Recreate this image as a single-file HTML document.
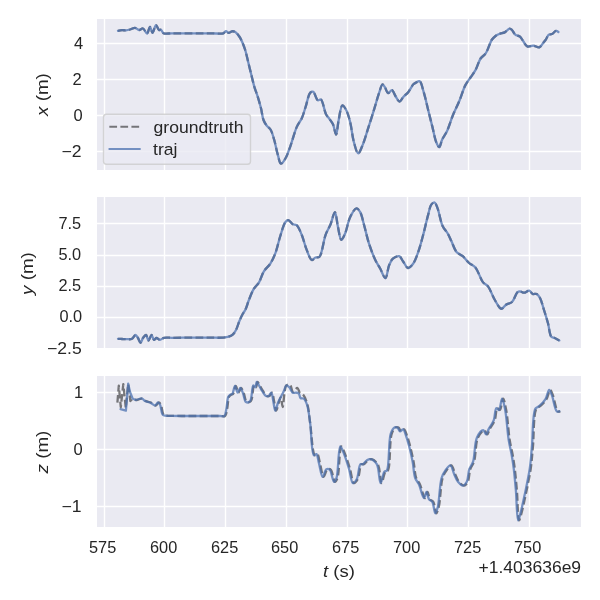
<!DOCTYPE html><html><head><meta charset="utf-8"><title>xyz</title><style>html,body{margin:0;padding:0;background:#fff;width:600px;height:600px;overflow:hidden}svg{display:block}</style></head><body>
<svg width="600" height="600" viewBox="0 0 600 600" style="font-family:'Liberation Sans',sans-serif">
<defs>
<clipPath id="c0"><rect x="97" y="19" width="484" height="151"/></clipPath>
<clipPath id="c1"><rect x="97" y="197" width="484" height="151"/></clipPath>
<clipPath id="c2"><rect x="97" y="376" width="484" height="151"/></clipPath>
</defs>
<rect width="600" height="600" fill="#fff"/>
<rect x="97" y="19" width="484" height="151" fill="#EAEAF2"/>
<path d="M104.5 19 V170 M164.5 19 V170 M225.5 19 V170 M286.5 19 V170 M347.5 19 V170 M407.5 19 V170 M468.5 19 V170 M529.5 19 V170 M97 43.5 H581 M97 79.5 H581 M97 115.5 H581 M97 151.5 H581" stroke="#fff" stroke-width="1.389" fill="none"/>
<g clip-path="url(#c0)" fill="none" stroke-linejoin="round">
<path d="M118.00 30.80 C118.00 30.80 120.66 30.28 122.00 30.20 C123.33 30.12 124.67 30.41 126.00 30.30 C127.34 30.18 128.61 29.87 130.00 29.50 C131.59 29.07 133.45 27.66 135.00 27.80 C136.44 27.93 137.64 29.90 139.00 30.00 C140.31 30.09 141.78 28.16 143.00 28.50 C144.50 28.91 145.86 33.65 147.00 33.50 C148.22 33.34 149.06 26.79 150.00 26.80 C150.89 26.81 151.58 32.78 152.50 32.80 C153.55 32.82 154.81 25.28 156.00 25.20 C156.98 25.14 157.93 29.47 159.00 30.00 C159.64 30.31 160.37 29.52 161.00 29.80 C161.91 30.21 162.19 32.53 163.50 33.20 C165.36 34.16 168.87 33.28 172.00 33.30 C175.87 33.32 180.51 33.30 185.00 33.30 C189.82 33.30 195.28 33.30 200.00 33.30 C204.22 33.30 208.06 33.30 212.00 33.30 C215.82 33.30 220.91 34.15 223.30 33.30 C224.63 32.83 225.08 31.14 226.00 31.10 C226.88 31.06 227.73 32.83 228.70 32.90 C229.73 32.97 230.88 31.44 232.00 31.30 C233.08 31.17 234.24 31.39 235.30 32.00 C236.71 32.82 238.17 34.89 239.30 36.50 C240.39 38.06 241.12 39.58 242.00 41.50 C243.11 43.93 244.21 46.82 245.20 50.00 C246.42 53.91 247.40 58.86 248.50 63.30 C249.60 67.76 250.77 72.56 251.80 76.70 C252.69 80.28 253.32 83.39 254.30 86.70 C255.29 90.05 256.62 93.23 257.70 96.70 C258.86 100.41 260.03 104.41 261.00 108.30 C261.96 112.18 262.30 116.85 263.50 120.00 C264.40 122.35 265.54 124.15 266.80 125.80 C267.91 127.26 269.43 127.81 270.50 129.50 C272.03 131.91 272.98 135.79 274.10 139.50 C275.46 144.01 276.51 150.33 277.80 154.70 C278.80 158.09 279.47 163.32 280.90 163.60 C282.11 163.84 284.02 160.73 285.40 158.50 C287.35 155.34 288.78 150.48 290.50 145.80 C292.57 140.15 294.54 131.94 296.80 126.90 C298.42 123.28 300.45 121.23 301.90 118.00 C303.46 114.51 304.38 110.59 305.70 106.60 C307.16 102.20 308.33 94.56 310.30 92.70 C311.21 91.84 312.35 91.49 313.30 91.90 C314.96 92.62 316.12 99.56 317.80 100.30 C318.77 100.73 319.95 98.99 320.90 99.50 C323.00 100.62 324.15 110.66 326.00 114.20 C327.17 116.45 328.52 117.60 329.70 119.30 C330.85 120.96 332.04 122.26 333.00 124.30 C334.28 127.03 335.21 134.55 336.10 134.50 C337.13 134.44 337.58 125.24 338.60 120.50 C339.67 115.52 340.66 105.69 342.40 105.30 C343.48 105.06 345.08 107.95 346.20 110.00 C347.80 112.94 348.94 117.29 350.10 121.80 C351.60 127.61 352.29 136.38 353.90 142.10 C355.13 146.48 356.63 153.31 358.20 153.40 C359.62 153.48 361.36 148.00 362.80 144.60 C364.62 140.28 366.05 134.84 367.80 129.40 C369.82 123.13 372.21 115.51 374.20 109.10 C375.98 103.35 377.62 97.24 379.20 92.70 C380.35 89.41 381.30 84.48 382.50 84.30 C383.32 84.18 384.26 86.31 385.10 87.60 C386.14 89.18 386.86 92.94 388.10 93.20 C389.18 93.43 390.74 89.99 391.90 90.20 C393.33 90.46 394.38 94.55 395.70 96.50 C396.92 98.30 398.21 101.47 399.50 101.50 C400.75 101.53 401.91 98.52 403.30 97.00 C404.84 95.32 406.80 93.86 408.40 91.90 C410.19 89.70 411.87 85.85 413.40 84.30 C414.28 83.41 414.94 83.08 415.90 82.60 C417.00 82.05 418.62 80.79 419.70 81.30 C421.47 82.13 422.25 87.41 423.50 91.40 C425.24 96.96 427.03 105.42 428.60 111.70 C429.96 117.13 431.13 121.83 432.40 126.90 C433.67 131.97 434.70 138.48 436.20 142.10 C437.11 144.31 438.27 147.18 439.20 147.10 C440.30 147.01 440.96 142.08 442.20 139.50 C443.58 136.63 445.62 134.11 447.20 130.70 C449.20 126.39 450.79 120.43 452.80 115.50 C454.76 110.70 457.07 106.38 459.10 101.50 C461.28 96.28 463.15 89.43 465.40 85.10 C467.02 81.97 468.80 80.03 470.50 77.50 C472.20 74.97 474.03 72.77 475.60 69.90 C477.44 66.56 478.61 61.41 480.60 58.50 C482.11 56.28 484.10 55.71 485.70 53.40 C488.02 50.05 489.88 42.57 492.00 39.50 C493.26 37.68 494.41 36.68 495.80 35.70 C497.09 34.79 498.54 34.25 500.00 33.70 C501.50 33.14 503.19 33.15 504.70 32.40 C506.40 31.56 508.23 28.80 509.60 28.70 C510.52 28.63 511.22 29.30 512.00 30.00 C513.14 31.01 513.91 33.58 515.30 34.70 C516.61 35.76 518.69 35.65 520.00 36.70 C521.38 37.81 522.13 39.74 523.30 41.30 C524.55 42.97 525.59 45.69 527.30 46.40 C528.95 47.09 531.31 45.56 533.30 45.70 C535.31 45.85 537.63 47.81 539.30 47.30 C540.96 46.79 542.11 44.13 543.30 42.70 C544.30 41.49 545.14 40.55 546.00 39.30 C546.95 37.91 547.53 35.54 548.70 34.70 C549.63 34.03 550.91 34.51 552.00 34.00 C553.34 33.38 554.80 31.04 556.00 30.90 C556.87 30.80 558.40 32.00 558.40 32.00" stroke="#000" stroke-opacity="0.5" stroke-width="2.3" stroke-dasharray="7.71 3.33"/>
<path d="M118.00 30.80 C118.00 30.80 120.66 30.28 122.00 30.20 C123.33 30.12 124.67 30.41 126.00 30.30 C127.34 30.18 128.61 29.87 130.00 29.50 C131.59 29.07 133.45 27.66 135.00 27.80 C136.44 27.93 137.64 29.90 139.00 30.00 C140.31 30.09 141.78 28.16 143.00 28.50 C144.50 28.91 145.86 33.65 147.00 33.50 C148.22 33.34 149.06 26.79 150.00 26.80 C150.89 26.81 151.58 32.78 152.50 32.80 C153.55 32.82 154.81 25.28 156.00 25.20 C156.98 25.14 157.93 29.47 159.00 30.00 C159.64 30.31 160.37 29.52 161.00 29.80 C161.91 30.21 162.19 32.53 163.50 33.20 C165.36 34.16 168.87 33.28 172.00 33.30 C175.87 33.32 180.51 33.30 185.00 33.30 C189.82 33.30 195.28 33.30 200.00 33.30 C204.22 33.30 208.06 33.30 212.00 33.30 C215.82 33.30 220.91 34.15 223.30 33.30 C224.63 32.83 225.08 31.14 226.00 31.10 C226.88 31.06 227.73 32.83 228.70 32.90 C229.73 32.97 230.88 31.44 232.00 31.30 C233.08 31.17 234.24 31.39 235.30 32.00 C236.71 32.82 238.17 34.89 239.30 36.50 C240.39 38.06 241.12 39.58 242.00 41.50 C243.11 43.93 244.21 46.82 245.20 50.00 C246.42 53.91 247.40 58.86 248.50 63.30 C249.60 67.76 250.77 72.56 251.80 76.70 C252.69 80.28 253.32 83.39 254.30 86.70 C255.29 90.05 256.62 93.23 257.70 96.70 C258.86 100.41 260.03 104.41 261.00 108.30 C261.96 112.18 262.30 116.85 263.50 120.00 C264.40 122.35 265.54 124.15 266.80 125.80 C267.91 127.26 269.43 127.81 270.50 129.50 C272.03 131.91 272.98 135.79 274.10 139.50 C275.46 144.01 276.51 150.33 277.80 154.70 C278.80 158.09 279.47 163.32 280.90 163.60 C282.11 163.84 284.02 160.73 285.40 158.50 C287.35 155.34 288.78 150.48 290.50 145.80 C292.57 140.15 294.54 131.94 296.80 126.90 C298.42 123.28 300.45 121.23 301.90 118.00 C303.46 114.51 304.38 110.59 305.70 106.60 C307.16 102.20 308.33 94.56 310.30 92.70 C311.21 91.84 312.35 91.49 313.30 91.90 C314.96 92.62 316.12 99.56 317.80 100.30 C318.77 100.73 319.95 98.99 320.90 99.50 C323.00 100.62 324.15 110.66 326.00 114.20 C327.17 116.45 328.52 117.60 329.70 119.30 C330.85 120.96 332.04 122.26 333.00 124.30 C334.28 127.03 335.21 134.55 336.10 134.50 C337.13 134.44 337.58 125.24 338.60 120.50 C339.67 115.52 340.66 105.69 342.40 105.30 C343.48 105.06 345.08 107.95 346.20 110.00 C347.80 112.94 348.94 117.29 350.10 121.80 C351.60 127.61 352.29 136.38 353.90 142.10 C355.13 146.48 356.63 153.31 358.20 153.40 C359.62 153.48 361.36 148.00 362.80 144.60 C364.62 140.28 366.05 134.84 367.80 129.40 C369.82 123.13 372.21 115.51 374.20 109.10 C375.98 103.35 377.62 97.24 379.20 92.70 C380.35 89.41 381.30 84.48 382.50 84.30 C383.32 84.18 384.26 86.31 385.10 87.60 C386.14 89.18 386.86 92.94 388.10 93.20 C389.18 93.43 390.74 89.99 391.90 90.20 C393.33 90.46 394.38 94.55 395.70 96.50 C396.92 98.30 398.21 101.47 399.50 101.50 C400.75 101.53 401.91 98.52 403.30 97.00 C404.84 95.32 406.80 93.86 408.40 91.90 C410.19 89.70 411.87 85.85 413.40 84.30 C414.28 83.41 414.94 83.08 415.90 82.60 C417.00 82.05 418.62 80.79 419.70 81.30 C421.47 82.13 422.25 87.41 423.50 91.40 C425.24 96.96 427.03 105.42 428.60 111.70 C429.96 117.13 431.13 121.83 432.40 126.90 C433.67 131.97 434.70 138.48 436.20 142.10 C437.11 144.31 438.27 147.18 439.20 147.10 C440.30 147.01 440.96 142.08 442.20 139.50 C443.58 136.63 445.62 134.11 447.20 130.70 C449.20 126.39 450.79 120.43 452.80 115.50 C454.76 110.70 457.07 106.38 459.10 101.50 C461.28 96.28 463.15 89.43 465.40 85.10 C467.02 81.97 468.80 80.03 470.50 77.50 C472.20 74.97 474.03 72.77 475.60 69.90 C477.44 66.56 478.61 61.41 480.60 58.50 C482.11 56.28 484.10 55.71 485.70 53.40 C488.02 50.05 489.88 42.57 492.00 39.50 C493.26 37.68 494.41 36.68 495.80 35.70 C497.09 34.79 498.54 34.25 500.00 33.70 C501.50 33.14 503.19 33.15 504.70 32.40 C506.40 31.56 508.23 28.80 509.60 28.70 C510.52 28.63 511.22 29.30 512.00 30.00 C513.14 31.01 513.91 33.58 515.30 34.70 C516.61 35.76 518.69 35.65 520.00 36.70 C521.38 37.81 522.13 39.74 523.30 41.30 C524.55 42.97 525.59 45.69 527.30 46.40 C528.95 47.09 531.31 45.56 533.30 45.70 C535.31 45.85 537.63 47.81 539.30 47.30 C540.96 46.79 542.11 44.13 543.30 42.70 C544.30 41.49 545.14 40.55 546.00 39.30 C546.95 37.91 547.53 35.54 548.70 34.70 C549.63 34.03 550.91 34.51 552.00 34.00 C553.34 33.38 554.80 31.04 556.00 30.90 C556.87 30.80 558.40 32.00 558.40 32.00" stroke="#4C72B0" stroke-opacity="0.75" stroke-width="2.3" stroke-linecap="round"/>
</g>
<rect x="97" y="197" width="484" height="151" fill="#EAEAF2"/>
<path d="M104.5 197 V348 M164.5 197 V348 M225.5 197 V348 M286.5 197 V348 M347.5 197 V348 M407.5 197 V348 M468.5 197 V348 M529.5 197 V348 M97 223.5 H581 M97 255.5 H581 M97 286.5 H581 M97 317.5 H581" stroke="#fff" stroke-width="1.389" fill="none"/>
<g clip-path="url(#c1)" fill="none" stroke-linejoin="round">
<path d="M118.00 338.80 C118.00 338.80 120.59 338.94 122.00 339.00 C123.57 339.07 125.33 339.23 127.00 339.20 C128.67 339.17 130.59 339.49 132.00 338.80 C133.43 338.10 134.44 334.97 135.50 335.00 C136.42 335.02 137.22 336.84 138.00 338.00 C138.91 339.37 139.67 342.80 140.50 342.80 C141.33 342.80 142.01 339.35 143.00 338.00 C143.88 336.80 145.14 334.84 146.00 335.00 C147.03 335.19 147.59 340.47 148.50 340.50 C149.42 340.53 150.55 334.99 151.50 335.00 C152.38 335.01 153.01 339.57 154.00 339.80 C154.75 339.98 155.57 338.07 156.50 338.00 C157.55 337.92 158.79 339.79 160.00 339.80 C161.29 339.81 162.38 338.18 164.00 337.80 C166.16 337.29 169.01 337.81 172.00 337.80 C175.81 337.79 180.51 337.72 185.00 337.70 C189.82 337.68 195.28 337.70 200.00 337.70 C204.22 337.70 208.06 337.72 212.00 337.70 C215.82 337.68 220.23 337.87 223.30 337.60 C225.44 337.41 227.07 337.23 228.70 336.70 C230.17 336.22 231.54 335.70 232.70 334.70 C234.02 333.56 235.00 331.88 236.00 330.00 C237.27 327.61 238.14 324.05 239.30 321.30 C240.38 318.74 241.56 316.11 242.70 314.00 C243.63 312.29 244.62 311.32 245.50 309.50 C246.70 307.03 247.52 303.51 248.80 300.30 C250.24 296.68 251.89 292.04 253.80 288.90 C255.34 286.37 257.36 285.13 258.90 282.60 C260.81 279.48 261.87 274.56 263.90 271.30 C265.71 268.40 268.36 266.61 270.20 263.80 C272.17 260.79 273.68 257.61 275.20 253.70 C277.14 248.70 278.51 241.51 280.30 236.00 C281.90 231.09 283.40 224.62 285.30 222.20 C286.24 221.00 287.22 220.13 288.30 220.20 C289.70 220.29 291.35 223.38 292.90 224.20 C294.13 224.85 295.45 224.28 296.60 225.20 C298.54 226.74 300.15 231.17 301.70 234.80 C303.58 239.20 304.84 245.43 306.70 249.90 C308.27 253.67 309.94 259.52 311.80 260.00 C312.97 260.30 314.20 257.99 315.50 257.50 C316.71 257.04 318.15 257.99 319.30 257.00 C322.12 254.57 323.36 240.77 325.60 234.80 C327.20 230.54 329.08 227.89 330.60 224.20 C332.19 220.34 333.70 212.02 334.90 212.10 C336.21 212.19 336.88 222.41 338.00 227.20 C339.03 231.60 339.87 239.59 341.30 239.80 C342.38 239.96 343.90 236.18 345.10 233.50 C346.92 229.42 347.90 221.68 350.10 217.20 C351.86 213.62 354.47 208.46 356.40 208.30 C357.75 208.19 359.11 210.28 360.20 212.10 C361.90 214.95 362.69 220.06 364.00 224.70 C365.60 230.35 367.05 237.57 369.00 243.60 C370.85 249.31 373.15 255.44 375.30 260.00 C376.94 263.46 378.64 265.82 380.30 268.80 C382.00 271.85 383.97 278.26 385.40 278.10 C387.02 277.92 387.69 268.50 389.20 265.00 C390.30 262.44 391.18 260.17 392.90 258.70 C394.55 257.28 397.50 255.73 399.20 256.20 C400.84 256.66 401.65 259.40 403.00 261.20 C404.56 263.29 406.20 267.78 408.00 268.00 C409.59 268.20 411.60 265.78 413.10 263.80 C415.15 261.09 416.55 256.67 418.10 252.40 C419.98 247.22 421.57 240.89 423.20 234.80 C424.94 228.32 426.66 220.14 428.20 214.60 C429.30 210.67 429.79 206.58 431.30 204.60 C432.22 203.39 433.64 202.24 434.60 202.50 C435.84 202.83 436.60 205.78 437.60 208.30 C439.27 212.54 440.49 221.47 442.60 226.00 C444.08 229.18 446.21 230.94 447.70 233.50 C449.13 235.97 450.08 238.34 451.40 241.10 C452.97 244.38 454.28 249.30 456.50 251.90 C458.27 253.97 460.79 254.47 462.80 256.20 C465.01 258.11 466.90 261.06 469.10 263.00 C471.11 264.77 473.46 265.25 475.40 267.50 C478.23 270.78 480.30 278.83 482.90 282.10 C484.56 284.18 486.40 284.37 488.00 286.40 C490.32 289.35 492.15 295.20 494.30 299.00 C496.17 302.30 498.38 306.71 500.00 308.00 C500.72 308.57 501.28 308.87 502.00 308.70 C503.18 308.43 504.42 305.79 506.00 304.70 C507.71 303.52 510.28 303.59 512.00 302.00 C514.23 299.95 515.55 293.96 517.30 292.40 C518.20 291.60 519.01 291.32 520.00 291.30 C521.20 291.27 522.58 292.72 524.00 292.70 C525.65 292.68 527.81 290.39 529.30 290.70 C530.66 290.98 531.40 293.47 532.70 294.00 C533.89 294.48 535.54 293.45 536.70 294.00 C538.02 294.62 539.00 296.19 540.00 298.00 C541.57 300.83 542.70 305.89 544.00 310.00 C545.37 314.31 546.78 318.84 548.00 323.30 C549.21 327.74 549.47 334.63 551.30 336.70 C552.24 337.76 553.50 337.46 554.70 338.00 C556.14 338.65 559.30 340.40 559.30 340.40" stroke="#000" stroke-opacity="0.5" stroke-width="2.3" stroke-dasharray="7.71 3.33"/>
<path d="M118.00 338.80 C118.00 338.80 120.59 338.94 122.00 339.00 C123.57 339.07 125.33 339.23 127.00 339.20 C128.67 339.17 130.59 339.49 132.00 338.80 C133.43 338.10 134.44 334.97 135.50 335.00 C136.42 335.02 137.22 336.84 138.00 338.00 C138.91 339.37 139.67 342.80 140.50 342.80 C141.33 342.80 142.01 339.35 143.00 338.00 C143.88 336.80 145.14 334.84 146.00 335.00 C147.03 335.19 147.59 340.47 148.50 340.50 C149.42 340.53 150.55 334.99 151.50 335.00 C152.38 335.01 153.01 339.57 154.00 339.80 C154.75 339.98 155.57 338.07 156.50 338.00 C157.55 337.92 158.79 339.79 160.00 339.80 C161.29 339.81 162.38 338.18 164.00 337.80 C166.16 337.29 169.01 337.81 172.00 337.80 C175.81 337.79 180.51 337.72 185.00 337.70 C189.82 337.68 195.28 337.70 200.00 337.70 C204.22 337.70 208.06 337.72 212.00 337.70 C215.82 337.68 220.23 337.87 223.30 337.60 C225.44 337.41 227.07 337.23 228.70 336.70 C230.17 336.22 231.54 335.70 232.70 334.70 C234.02 333.56 235.00 331.88 236.00 330.00 C237.27 327.61 238.14 324.05 239.30 321.30 C240.38 318.74 241.56 316.11 242.70 314.00 C243.63 312.29 244.62 311.32 245.50 309.50 C246.70 307.03 247.52 303.51 248.80 300.30 C250.24 296.68 251.89 292.04 253.80 288.90 C255.34 286.37 257.36 285.13 258.90 282.60 C260.81 279.48 261.87 274.56 263.90 271.30 C265.71 268.40 268.36 266.61 270.20 263.80 C272.17 260.79 273.68 257.61 275.20 253.70 C277.14 248.70 278.51 241.51 280.30 236.00 C281.90 231.09 283.40 224.62 285.30 222.20 C286.24 221.00 287.22 220.13 288.30 220.20 C289.70 220.29 291.35 223.38 292.90 224.20 C294.13 224.85 295.45 224.28 296.60 225.20 C298.54 226.74 300.15 231.17 301.70 234.80 C303.58 239.20 304.84 245.43 306.70 249.90 C308.27 253.67 309.94 259.52 311.80 260.00 C312.97 260.30 314.20 257.99 315.50 257.50 C316.71 257.04 318.15 257.99 319.30 257.00 C322.12 254.57 323.36 240.77 325.60 234.80 C327.20 230.54 329.08 227.89 330.60 224.20 C332.19 220.34 333.70 212.02 334.90 212.10 C336.21 212.19 336.88 222.41 338.00 227.20 C339.03 231.60 339.87 239.59 341.30 239.80 C342.38 239.96 343.90 236.18 345.10 233.50 C346.92 229.42 347.90 221.68 350.10 217.20 C351.86 213.62 354.47 208.46 356.40 208.30 C357.75 208.19 359.11 210.28 360.20 212.10 C361.90 214.95 362.69 220.06 364.00 224.70 C365.60 230.35 367.05 237.57 369.00 243.60 C370.85 249.31 373.15 255.44 375.30 260.00 C376.94 263.46 378.64 265.82 380.30 268.80 C382.00 271.85 383.97 278.26 385.40 278.10 C387.02 277.92 387.69 268.50 389.20 265.00 C390.30 262.44 391.18 260.17 392.90 258.70 C394.55 257.28 397.50 255.73 399.20 256.20 C400.84 256.66 401.65 259.40 403.00 261.20 C404.56 263.29 406.20 267.78 408.00 268.00 C409.59 268.20 411.60 265.78 413.10 263.80 C415.15 261.09 416.55 256.67 418.10 252.40 C419.98 247.22 421.57 240.89 423.20 234.80 C424.94 228.32 426.66 220.14 428.20 214.60 C429.30 210.67 429.79 206.58 431.30 204.60 C432.22 203.39 433.64 202.24 434.60 202.50 C435.84 202.83 436.60 205.78 437.60 208.30 C439.27 212.54 440.49 221.47 442.60 226.00 C444.08 229.18 446.21 230.94 447.70 233.50 C449.13 235.97 450.08 238.34 451.40 241.10 C452.97 244.38 454.28 249.30 456.50 251.90 C458.27 253.97 460.79 254.47 462.80 256.20 C465.01 258.11 466.90 261.06 469.10 263.00 C471.11 264.77 473.46 265.25 475.40 267.50 C478.23 270.78 480.30 278.83 482.90 282.10 C484.56 284.18 486.40 284.37 488.00 286.40 C490.32 289.35 492.15 295.20 494.30 299.00 C496.17 302.30 498.38 306.71 500.00 308.00 C500.72 308.57 501.28 308.87 502.00 308.70 C503.18 308.43 504.42 305.79 506.00 304.70 C507.71 303.52 510.28 303.59 512.00 302.00 C514.23 299.95 515.55 293.96 517.30 292.40 C518.20 291.60 519.01 291.32 520.00 291.30 C521.20 291.27 522.58 292.72 524.00 292.70 C525.65 292.68 527.81 290.39 529.30 290.70 C530.66 290.98 531.40 293.47 532.70 294.00 C533.89 294.48 535.54 293.45 536.70 294.00 C538.02 294.62 539.00 296.19 540.00 298.00 C541.57 300.83 542.70 305.89 544.00 310.00 C545.37 314.31 546.78 318.84 548.00 323.30 C549.21 327.74 549.47 334.63 551.30 336.70 C552.24 337.76 553.50 337.46 554.70 338.00 C556.14 338.65 559.30 340.40 559.30 340.40" stroke="#4C72B0" stroke-opacity="0.75" stroke-width="2.3" stroke-linecap="round"/>
</g>
<rect x="97" y="376" width="484" height="151" fill="#EAEAF2"/>
<path d="M104.5 376 V527 M164.5 376 V527 M225.5 376 V527 M286.5 376 V527 M347.5 376 V527 M407.5 376 V527 M468.5 376 V527 M529.5 376 V527 M97 392.5 H581 M97 449.5 H581 M97 506.5 H581" stroke="#fff" stroke-width="1.389" fill="none"/>
<g clip-path="url(#c2)" fill="none" stroke-linejoin="round">
<path d="M117.40 402.70 L118.80 385.70 L120.80 407.20 L123.30 384.20 L125.80 408.00 L128.20 384.00 L130.40 401.00 L132.70 398.70 L132.70 398.70 C132.70 398.70 135.54 400.01 136.80 400.00 C137.88 399.99 138.79 399.25 139.80 399.00 C140.79 398.75 141.86 398.24 142.80 398.50 C143.87 398.79 144.60 400.35 145.80 401.00 C147.19 401.75 149.18 401.78 150.80 402.50 C152.52 403.26 154.40 405.67 155.80 405.50 C156.99 405.35 157.90 402.50 158.80 402.50 C159.53 402.50 160.19 403.46 160.80 404.50 C162.01 406.55 162.00 413.37 163.80 415.00 C164.96 416.05 166.79 415.65 168.30 415.80 C169.79 415.95 170.91 415.87 172.80 415.90 C176.01 415.95 181.31 415.98 185.80 416.00 C190.62 416.02 196.08 416.00 200.80 416.00 C205.02 416.00 209.20 416.00 212.80 416.00 C215.74 416.00 218.54 416.00 220.80 416.00 C222.45 416.00 224.07 416.77 225.10 416.00 C226.42 415.02 226.51 411.91 227.10 409.30 C227.90 405.78 227.92 399.01 229.10 396.70 C229.65 395.61 230.38 395.15 231.10 394.70 C231.73 394.31 232.51 394.60 233.10 394.00 C234.29 392.80 234.86 386.03 235.80 386.00 C236.67 385.98 237.54 392.64 238.50 392.70 C239.32 392.75 240.24 387.99 241.10 388.00 C242.01 388.02 242.94 391.28 243.80 393.30 C244.87 395.81 245.19 401.05 246.80 402.00 C247.87 402.63 249.73 402.34 250.80 401.30 C252.95 399.21 252.65 385.74 254.10 385.30 C254.71 385.12 255.57 387.44 256.10 387.30 C256.84 387.10 256.79 382.11 257.50 382.00 C258.16 381.89 259.24 384.60 260.10 386.00 C261.01 387.49 261.76 389.12 262.80 390.70 C263.96 392.45 265.42 395.31 266.80 396.00 C267.68 396.44 268.69 396.39 269.50 396.00 C270.51 395.51 271.40 392.54 272.10 392.70 C273.12 392.93 273.45 398.37 274.10 401.30 C274.78 404.36 275.28 410.65 276.10 410.70 C276.87 410.74 277.97 405.10 278.80 402.70 C279.48 400.72 280.12 397.26 280.70 397.30 C281.46 397.35 282.11 407.02 282.70 407.00 C283.41 406.97 283.76 396.96 284.50 393.00 C285.05 390.03 285.09 386.51 286.40 385.30 C287.29 384.48 289.01 384.15 290.00 384.70 C291.46 385.51 291.64 391.70 293.00 392.00 C294.17 392.26 296.13 387.81 297.30 388.00 C298.45 388.19 298.89 392.03 300.00 393.00 C300.79 393.69 301.84 393.20 302.70 394.00 C304.38 395.56 306.12 400.06 307.30 404.00 C308.84 409.16 309.05 415.53 310.10 422.60 C311.49 431.97 312.31 453.92 314.90 455.30 C315.65 455.70 316.70 453.78 317.40 454.10 C318.67 454.67 318.99 459.63 319.90 462.90 C321.04 467.00 322.24 476.66 323.70 476.80 C324.82 476.90 325.85 470.01 327.40 469.20 C328.37 468.69 329.72 468.90 330.70 469.70 C332.61 471.28 333.59 481.63 335.00 481.80 C335.84 481.90 336.76 480.01 337.50 478.00 C339.44 472.69 339.26 446.85 341.30 446.50 C342.36 446.32 343.85 451.08 345.10 454.10 C346.81 458.23 348.61 464.25 350.10 469.20 C351.52 473.91 352.13 482.63 353.90 483.10 C354.98 483.39 356.63 481.19 357.70 479.30 C359.53 476.08 359.65 465.64 361.50 464.20 C362.24 463.62 363.15 464.55 364.00 464.20 C365.24 463.69 366.44 461.26 367.80 460.40 C368.96 459.67 370.17 458.87 371.50 459.10 C373.41 459.43 376.20 461.56 377.80 464.20 C380.26 468.27 380.14 483.01 381.60 483.10 C382.75 483.17 383.82 473.50 385.40 471.70 C386.16 470.84 387.17 471.54 387.90 470.50 C390.55 466.73 389.35 440.91 391.70 433.90 C392.75 430.76 394.05 428.42 395.50 427.60 C396.43 427.08 397.64 427.14 398.50 427.60 C399.55 428.17 400.00 431.19 401.00 431.40 C401.90 431.59 403.19 429.13 404.10 429.40 C405.42 429.79 406.36 433.97 407.30 436.50 C408.32 439.24 409.01 441.90 409.90 445.30 C411.10 449.89 412.55 456.14 413.60 461.60 C414.65 467.04 414.74 473.92 416.20 478.00 C417.17 480.71 418.68 481.72 419.90 484.30 C421.63 487.97 423.58 498.18 425.00 498.20 C425.96 498.21 426.70 491.88 427.50 491.90 C428.37 491.92 428.77 497.68 430.00 499.40 C430.89 500.64 432.39 500.54 433.30 501.90 C434.84 504.20 435.24 513.24 436.30 513.30 C437.10 513.35 438.04 509.93 438.80 507.00 C440.38 500.91 440.62 484.41 442.60 478.00 C443.66 474.56 444.85 472.66 446.40 470.50 C447.83 468.51 450.00 465.14 451.40 465.40 C453.02 465.70 453.89 471.39 455.20 474.20 C456.43 476.84 457.37 479.84 459.00 481.80 C460.40 483.49 462.49 485.70 464.00 485.60 C465.40 485.51 466.82 483.64 467.80 481.80 C469.32 478.96 469.07 472.80 470.30 469.20 C471.30 466.27 473.03 464.95 474.10 461.60 C475.91 455.95 475.39 443.20 477.90 437.70 C479.50 434.20 482.52 430.13 484.20 430.20 C485.42 430.25 486.30 434.48 487.20 434.40 C488.18 434.31 488.75 430.93 489.80 428.90 C491.16 426.29 493.57 423.36 494.80 420.10 C496.15 416.53 495.89 408.76 497.30 408.20 C498.02 407.91 499.14 410.27 499.90 410.00 C501.36 409.47 502.05 398.70 503.10 398.70 C504.15 398.70 505.28 405.29 506.20 410.00 C507.67 417.56 508.41 431.82 509.70 440.00 C510.60 445.72 511.75 449.66 512.60 454.50 C513.45 459.32 514.14 463.67 514.80 469.00 C515.61 475.50 516.23 482.90 516.90 490.70 C517.68 499.82 517.83 520.24 519.10 520.40 C519.71 520.48 520.52 516.65 521.30 513.90 C522.61 509.28 524.16 501.89 525.60 495.10 C527.29 487.12 529.47 477.34 530.70 469.00 C531.82 461.43 532.10 455.50 532.90 447.20 C533.96 436.18 533.35 413.79 536.40 408.70 C537.45 406.96 538.85 407.36 540.20 406.20 C542.14 404.54 544.84 401.87 546.50 399.20 C548.21 396.45 549.01 389.96 550.20 389.90 C551.09 389.85 551.90 392.70 552.80 394.90 C554.37 398.74 555.76 409.79 557.80 411.30 C558.58 411.88 560.30 411.30 560.30 411.30" stroke="#000" stroke-opacity="0.5" stroke-width="2.3" stroke-dasharray="7.71 3.33"/>
<path d="M120.50 409.20 L125.90 410.60 L128.20 383.70 L130.00 392.00 L132.70 398.70 L136.00 400.00 L136.00 400.00 C136.00 400.00 137.99 399.25 139.00 399.00 C139.99 398.75 141.06 398.24 142.00 398.50 C143.07 398.79 143.80 400.35 145.00 401.00 C146.39 401.75 148.38 401.78 150.00 402.50 C151.72 403.26 153.60 405.67 155.00 405.50 C156.19 405.35 157.10 402.50 158.00 402.50 C158.73 402.50 159.39 403.46 160.00 404.50 C161.21 406.55 161.20 413.37 163.00 415.00 C164.16 416.05 165.99 415.65 167.50 415.80 C168.99 415.95 170.11 415.87 172.00 415.90 C175.21 415.95 180.51 415.98 185.00 416.00 C189.82 416.02 195.28 416.00 200.00 416.00 C204.22 416.00 208.40 416.00 212.00 416.00 C214.94 416.00 217.74 416.00 220.00 416.00 C221.65 416.00 223.27 416.77 224.30 416.00 C225.62 415.02 225.71 411.91 226.30 409.30 C227.10 405.78 227.12 399.01 228.30 396.70 C228.85 395.61 229.58 395.15 230.30 394.70 C230.93 394.31 231.71 394.60 232.30 394.00 C233.49 392.80 234.06 386.03 235.00 386.00 C235.87 385.98 236.74 392.64 237.70 392.70 C238.52 392.75 239.44 387.99 240.30 388.00 C241.21 388.02 242.14 391.28 243.00 393.30 C244.07 395.81 244.39 401.05 246.00 402.00 C247.07 402.63 248.93 402.34 250.00 401.30 C252.15 399.21 251.85 385.74 253.30 385.30 C253.91 385.12 254.77 387.44 255.30 387.30 C256.04 387.10 255.99 382.11 256.70 382.00 C257.36 381.89 258.44 384.60 259.30 386.00 C260.21 387.49 260.96 389.12 262.00 390.70 C263.16 392.45 264.62 395.31 266.00 396.00 C266.88 396.44 267.89 396.39 268.70 396.00 C269.71 395.51 270.60 392.54 271.30 392.70 C272.32 392.93 272.65 398.37 273.30 401.30 C273.98 404.36 274.48 410.65 275.30 410.70 C276.07 410.74 277.01 405.08 278.00 402.70 C278.84 400.69 279.75 399.19 280.70 397.30 C281.74 395.21 283.01 392.80 284.00 390.70 C284.89 388.82 285.34 385.60 286.40 385.30 C287.21 385.07 288.39 386.35 289.30 387.30 C290.53 388.58 291.34 391.95 292.70 392.70 C293.68 393.24 294.96 392.59 296.00 392.70 C296.95 392.80 297.99 392.69 298.70 393.30 C299.65 394.12 299.49 397.14 300.50 398.00 C301.33 398.71 302.84 397.97 303.80 398.70 C305.19 399.76 306.18 402.28 307.10 405.00 C308.56 409.31 309.13 415.82 310.10 422.60 C311.42 431.81 311.39 453.92 313.90 455.30 C314.63 455.70 315.70 453.78 316.40 454.10 C317.67 454.67 317.99 459.63 318.90 462.90 C320.04 467.00 321.24 476.66 322.70 476.80 C323.82 476.90 324.85 470.01 326.40 469.20 C327.37 468.69 328.72 468.90 329.70 469.70 C331.61 471.28 332.59 481.63 334.00 481.80 C334.84 481.90 335.76 480.01 336.50 478.00 C338.44 472.69 338.26 446.85 340.30 446.50 C341.36 446.32 342.85 451.08 344.10 454.10 C345.81 458.23 347.61 464.25 349.10 469.20 C350.52 473.91 351.13 482.63 352.90 483.10 C353.98 483.39 355.63 481.19 356.70 479.30 C358.53 476.08 358.65 465.64 360.50 464.20 C361.24 463.62 362.15 464.55 363.00 464.20 C364.24 463.69 365.44 461.26 366.80 460.40 C367.96 459.67 369.17 458.87 370.50 459.10 C372.41 459.43 375.20 461.56 376.80 464.20 C379.26 468.27 379.14 483.01 380.60 483.10 C381.75 483.17 382.82 473.50 384.40 471.70 C385.16 470.84 386.17 471.54 386.90 470.50 C389.55 466.73 388.35 440.91 390.70 433.90 C391.75 430.76 393.05 428.42 394.50 427.60 C395.43 427.08 396.64 427.14 397.50 427.60 C398.55 428.17 399.00 431.19 400.00 431.40 C400.90 431.59 402.19 429.13 403.10 429.40 C404.42 429.79 405.36 433.97 406.30 436.50 C407.32 439.24 408.01 441.90 408.90 445.30 C410.10 449.89 411.55 456.14 412.60 461.60 C413.65 467.04 413.74 473.92 415.20 478.00 C416.17 480.71 417.68 481.72 418.90 484.30 C420.63 487.97 422.58 498.18 424.00 498.20 C424.96 498.21 425.70 491.88 426.50 491.90 C427.37 491.92 427.77 497.68 429.00 499.40 C429.89 500.64 431.39 500.54 432.30 501.90 C433.84 504.20 434.24 513.24 435.30 513.30 C436.10 513.35 437.04 509.93 437.80 507.00 C439.38 500.91 439.62 484.41 441.60 478.00 C442.66 474.56 443.85 472.66 445.40 470.50 C446.83 468.51 449.00 465.14 450.40 465.40 C452.02 465.70 452.89 471.39 454.20 474.20 C455.43 476.84 456.37 479.84 458.00 481.80 C459.40 483.49 461.49 485.70 463.00 485.60 C464.40 485.51 465.82 483.64 466.80 481.80 C468.32 478.96 468.07 472.80 469.30 469.20 C470.30 466.27 472.03 464.95 473.10 461.60 C474.91 455.95 474.39 443.20 476.90 437.70 C478.50 434.20 481.52 430.13 483.20 430.20 C484.42 430.25 485.30 434.48 486.20 434.40 C487.18 434.31 487.75 430.93 488.80 428.90 C490.16 426.29 492.57 423.36 493.80 420.10 C495.15 416.53 494.89 408.76 496.30 408.20 C497.02 407.91 498.14 410.27 498.90 410.00 C500.36 409.47 501.05 398.70 502.10 398.70 C503.15 398.70 504.28 405.29 505.20 410.00 C506.67 417.56 507.41 431.82 508.70 440.00 C509.60 445.72 510.75 449.66 511.60 454.50 C512.45 459.32 513.14 463.67 513.80 469.00 C514.61 475.50 515.23 482.90 515.90 490.70 C516.68 499.82 516.83 520.24 518.10 520.40 C518.71 520.48 519.52 516.65 520.30 513.90 C521.61 509.28 523.16 501.89 524.60 495.10 C526.29 487.12 528.47 477.34 529.70 469.00 C530.82 461.43 531.10 455.50 531.90 447.20 C532.96 436.18 532.35 413.79 535.40 408.70 C536.45 406.96 537.85 407.36 539.20 406.20 C541.14 404.54 543.84 401.87 545.50 399.20 C547.21 396.45 548.01 389.96 549.20 389.90 C550.09 389.85 550.90 392.70 551.80 394.90 C553.37 398.74 554.76 409.79 556.80 411.30 C557.58 411.88 559.30 411.30 559.30 411.30" stroke="#4C72B0" stroke-opacity="0.75" stroke-width="2.3" stroke-linecap="round"/>
</g>
<rect x="103.5" y="114.3" width="147" height="49.9" rx="3" ry="3" fill="#EAEAF2" fill-opacity="0.8" stroke="#CCCCCC" stroke-opacity="0.8" stroke-width="1.389"/>
<path d="M109.35 126.8 H139.14" stroke="#000" stroke-opacity="0.5" stroke-width="2.083" stroke-dasharray="7.71 3.33" fill="none"/>
<path d="M109.35 149.0 H139.9" stroke="#4C72B0" stroke-opacity="0.75" stroke-width="2.083" stroke-linecap="round" fill="none"/>
<g fill="#262626" style="filter:grayscale(1)">
<text transform="translate(61.500 157.000) rotate(0) scale(1.1500 1.0300)" font-size="15.28">−2</text>
<text transform="translate(73.500 121.000) rotate(0) scale(1.0800 1.0300)" font-size="15.28">0</text>
<text transform="translate(72.500 85.000) rotate(0) scale(1.0800 1.0300)" font-size="15.28">2</text>
<text transform="translate(74.000 49.000) rotate(0) scale(1.0800 1.0300)" font-size="15.28">4</text>
<text transform="translate(47.500 116.000) rotate(-90) scale(1.1300 1.0300)" font-size="16.67"><tspan font-style="italic">x</tspan> (m)</text>
<text transform="translate(47.000 353.900) rotate(0) scale(1.1500 1.0300)" font-size="15.28">−2.5</text>
<text transform="translate(59.500 321.900) rotate(0) scale(1.0700 1.0300)" font-size="15.28">0.0</text>
<text transform="translate(58.500 290.900) rotate(0) scale(1.0700 1.0300)" font-size="15.28">2.5</text>
<text transform="translate(58.500 259.900) rotate(0) scale(1.0700 1.0300)" font-size="15.28">5.0</text>
<text transform="translate(58.500 228.900) rotate(0) scale(1.0700 1.0300)" font-size="15.28">7.5</text>
<text transform="translate(32.500 295.000) rotate(-90) scale(1.1300 1.0300)" font-size="16.67"><tspan font-style="italic">y</tspan> (m)</text>
<text transform="translate(61.500 512.200) rotate(0) scale(1.1500 1.0300)" font-size="15.28">−1</text>
<text transform="translate(73.500 455.200) rotate(0) scale(1.0800 1.0300)" font-size="15.28">0</text>
<text transform="translate(74.000 398.200) rotate(0) scale(1.0800 1.0300)" font-size="15.28">1</text>
<text transform="translate(47.500 473.500) rotate(-90) scale(1.1300 1.0300)" font-size="16.67"><tspan font-style="italic">z</tspan> (m)</text>
<text transform="translate(89.000 553.000) rotate(0) scale(1.0700 1.0300)" font-size="15.28">575</text>
<text transform="translate(150.000 553.000) rotate(0) scale(1.0700 1.0300)" font-size="15.28">600</text>
<text transform="translate(211.000 553.000) rotate(0) scale(1.0700 1.0300)" font-size="15.28">625</text>
<text transform="translate(271.000 553.000) rotate(0) scale(1.0700 1.0300)" font-size="15.28">650</text>
<text transform="translate(332.000 553.000) rotate(0) scale(1.0700 1.0300)" font-size="15.28">675</text>
<text transform="translate(393.000 553.000) rotate(0) scale(1.0700 1.0300)" font-size="15.28">700</text>
<text transform="translate(454.000 553.000) rotate(0) scale(1.0700 1.0300)" font-size="15.28">725</text>
<text transform="translate(514.000 553.000) rotate(0) scale(1.0700 1.0300)" font-size="15.28">750</text>
<text transform="translate(323.000 576.500) rotate(0) scale(1.1100 1.0300)" font-size="16.67"><tspan font-style="italic">t</tspan> (s)</text>
<text transform="translate(478.500 573.000) rotate(0) scale(1.1460 1.0300)" font-size="15.28">+1.403636e9</text>
<text transform="translate(153.600 132.500) rotate(0) scale(1.1500 1.0300)" font-size="15.28">groundtruth</text>
<text transform="translate(153.100 154.500) rotate(0) scale(1.1500 1.0300)" font-size="15.28">traj</text>
</g>
</svg></body></html>
